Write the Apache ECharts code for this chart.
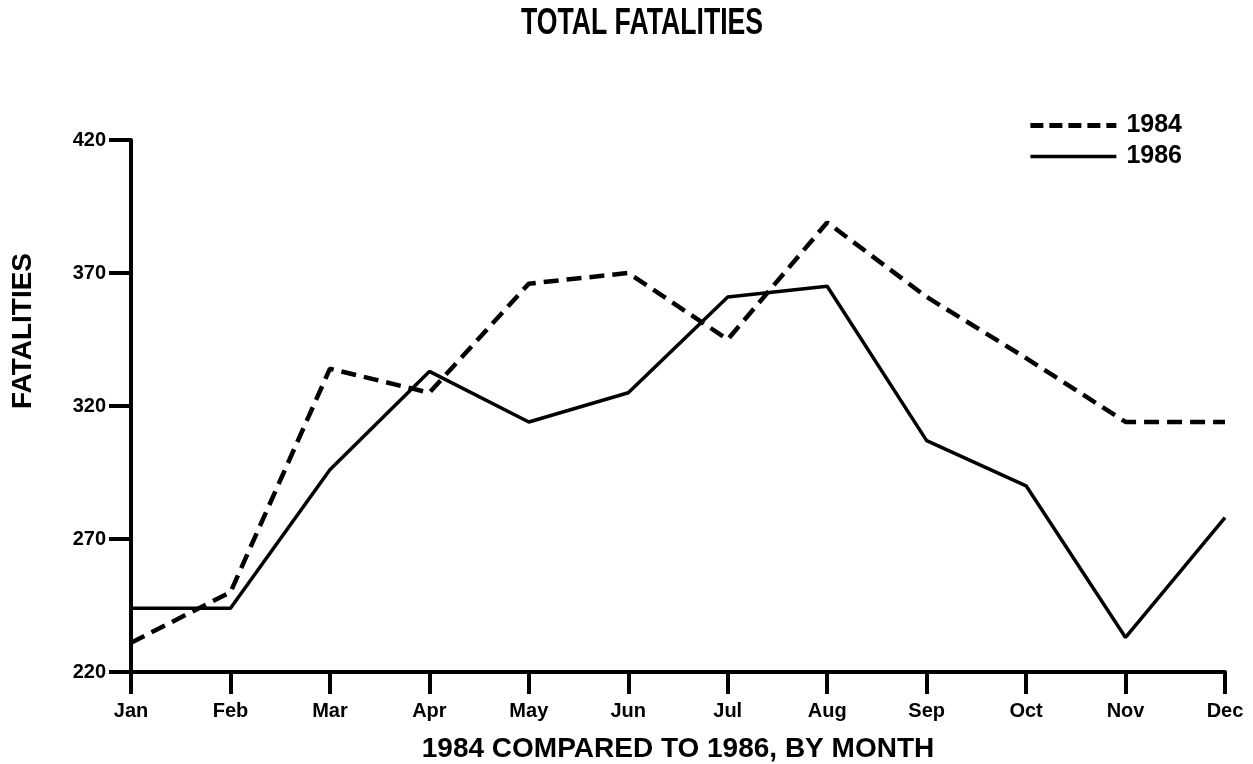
<!DOCTYPE html>
<html>
<head>
<meta charset="utf-8">
<script src="https://cdn.jsdelivr.net/npm/echarts@6/dist/echarts.min.js"></script>
<style>
  html, body { margin: 0; padding: 0; background: #fff; }
  #chart { width: 1253px; height: 764px; }
</style>
</head>
<body>
<div id="chart"></div>
<script>
// data
const months = ["Jan", "Feb", "Mar", "Apr", "May", "Jun", "Jul", "Aug", "Sep", "Oct", "Nov", "Dec"];
const fatal1984 = [231, 250, 334, 325, 366, 370, 345, 389, 361, 338, 314, 314];
const fatal1986 = [244, 244, 296, 333, 314, 325, 361, 365, 307, 290, 233, 278];
const yTicks = {min: 220, max: 420, step: 50};

const font = "'Liberation Sans', Arial, Helvetica, sans-serif";
const dash1984 = [15, 8];

const chart = echarts.init(document.getElementById("chart"));

chart.setOption({
    animation: false,
    backgroundColor: "#fff",
    legend: {
        orient: "vertical",
        right: 66,
        top: 108,
        itemWidth: 86,
        itemHeight: 26,
        itemGap: 6,
        itemStyle: {opacity: 0},
        textStyle: {
            fontFamily: font,
            fontWeight: "bold",
            fontSize: 25,
            color: "#000",
            padding: [0, 0, 0, 5]
        },
        data: [
            {name: "1984", lineStyle: {color: "#000", width: 5, type: [13, 6]}},
            {name: "1986", lineStyle: {color: "#000", width: 3.5, type: "solid"}}
        ]
    },
    grid: {left: 131, right: 28, top: 140, bottom: 92, outerBoundsMode: "none"},
    xAxis: {
        type: "category",
        data: months,
        boundaryGap: false,
        name: "1984 COMPARED TO 1986, BY MONTH",
        nameLocation: "middle",
        nameGap: 63,
        nameTextStyle: {fontFamily: font, fontWeight: "bold", fontSize: 28, color: "#000"},
        axisLine: {lineStyle: {color: "#000", width: 4}},
        axisTick: {alignWithLabel: true, length: 22, lineStyle: {color: "#000", width: 4}},
        axisLabel: {
            margin: 29,
            fontFamily: font,
            fontWeight: "bold",
            fontSize: 20,
            color: "#000"
        },
        splitLine: {show: false}
    },
    yAxis: {
        type: "value",
        min: yTicks.min,
        max: yTicks.max,
        interval: yTicks.step,
        axisLine: {show: true, lineStyle: {color: "#000", width: 4}},
        axisTick: {show: true, length: 22, lineStyle: {color: "#000", width: 4}},
        axisLabel: {
            margin: 25,
            fontFamily: font,
            fontWeight: "bold",
            fontSize: 20,
            color: "#000"
        },
        splitLine: {show: false}
    },
    graphic: [{
        // condensed title: squeeze a bold face horizontally
        type: "text",
        x: 642,
        y: 24,
        scaleX: 0.72,
        style: {
            text: "TOTAL FATALITIES",
            fontFamily: font,
            fontWeight: "bold",
            fontSize: 37,
            fill: "#000",
            align: "center",
            verticalAlign: "middle"
        }
    }, {
        type: "text",
        x: 23,
        y: 331,
        rotation: Math.PI / 2,
        style: {
            text: "FATALITIES",
            fontFamily: font,
            fontWeight: "bold",
            fontSize: 28,
            fill: "#000",
            align: "center",
            verticalAlign: "middle"
        }
    }],
    series: [{
        name: "1984",
        type: "line",
        data: fatal1984,
        symbol: "none",
        lineStyle: {color: "#000", width: 4.5, type: dash1984},
        itemStyle: {color: "#000"}
    }, {
        name: "1986",
        type: "line",
        data: fatal1986,
        symbol: "none",
        lineStyle: {color: "#000", width: 3.5, type: "solid"},
        itemStyle: {color: "#000"}
    }]
});
</script>
</body>
</html>
